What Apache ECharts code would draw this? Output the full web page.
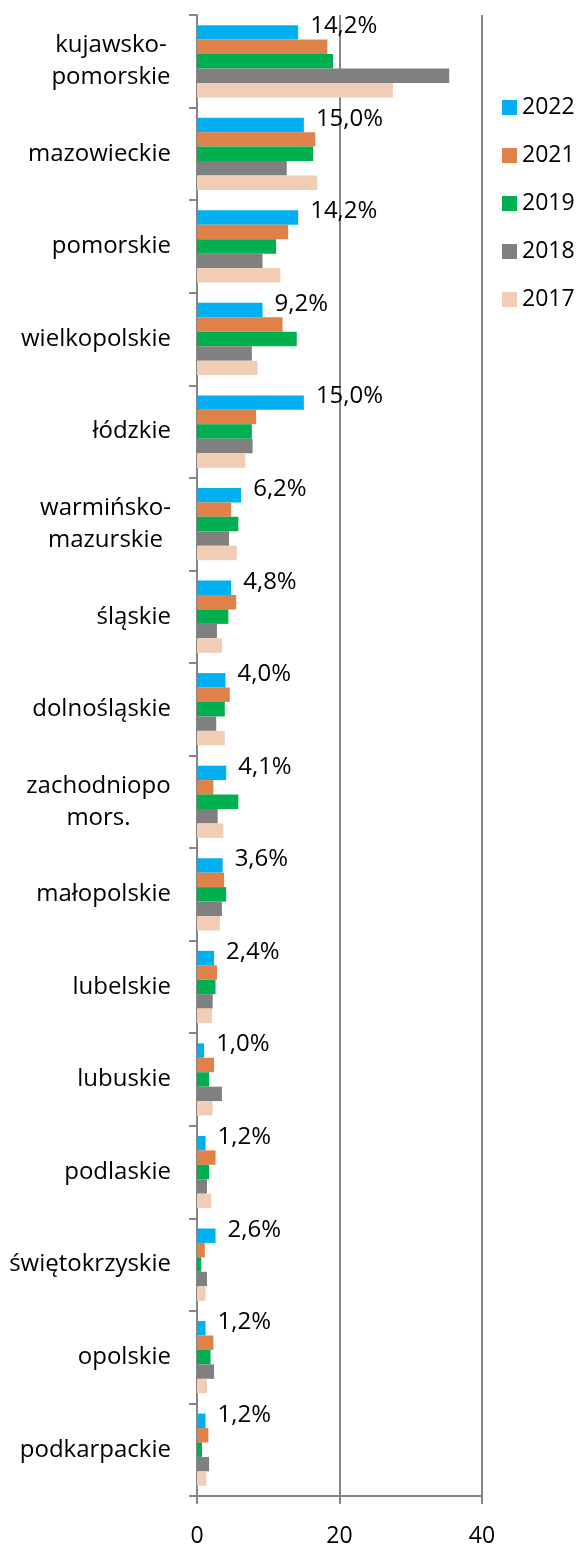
<!DOCTYPE html>
<html>
<head>
<meta charset="utf-8">
<title>chart</title>
<script src="https://cdn.jsdelivr.net/npm/echarts@6/dist/echarts.min.js"></script>
<style>
  html, body { margin: 0; padding: 0; background: #fff; }
  #chart { width: 576px; height: 1548px; }
</style>
</head>
<body>
<div id="chart"></div>
<script>
const categories = ['kujawsko-\npomorskie', 'mazowieckie', 'pomorskie', 'wielkopolskie', 'łódzkie',
  'warmińsko-\nmazurskie', 'śląskie', 'dolnośląskie', 'zachodniopo\nmors.', 'małopolskie',
  'lubelskie', 'lubuskie', 'podlaskie', 'świętokrzyskie', 'opolskie', 'podkarpackie']
const seriesNames = ['2022', '2021', '2019', '2018', '2017']
const v2022 = [14.2, 15.0, 14.2, 9.2, 15.0, 6.2, 4.8, 4.0, 4.1, 3.6, 2.4, 1.0, 1.2, 2.6, 1.2, 1.2]
const v2021 = [18.3, 16.6, 12.8, 12.0, 8.3, 4.8, 5.5, 4.6, 2.3, 3.8, 2.8, 2.4, 2.6, 1.1, 2.3, 1.6]
const v2019 = [19.1, 16.3, 11.1, 14.0, 7.7, 5.8, 4.4, 3.9, 5.8, 4.1, 2.6, 1.7, 1.7, 0.6, 1.9, 0.7]
const v2018 = [35.4, 12.6, 9.2, 7.7, 7.8, 4.5, 2.8, 2.7, 2.9, 3.5, 2.2, 3.5, 1.4, 1.4, 2.4, 1.7]
const v2017 = [27.5, 16.9, 11.7, 8.5, 6.8, 5.6, 3.5, 3.9, 3.7, 3.2, 2.1, 2.2, 2.0, 1.2, 1.4, 1.3]
const colorList = ['#00B0F0', '#E0814A', '#00B050', '#808080', '#F2CDB5']

const FONT = '"Open Sans", sans-serif'
const CAT_FS = 24

// multi-line labels are centred line by line, block stays right-aligned
const ctx = document.createElement('canvas').getContext('2d')
ctx.font = CAT_FS + 'px "Open Sans"'
const rich = {}
const labelText = {}
categories.forEach((name, i) => {
  const lines = name.split('\n')
  if (lines.length === 1) {
    labelText[name] = name
    return
  }
  const w = Math.ceil(Math.max(...lines.map(l => ctx.measureText(l).width)))
  rich['c' + i] = { width: w, align: 'center', fontSize: CAT_FS, fontFamily: FONT, color: '#000', lineHeight: 32 }
  labelText[name] = lines.map(l => '{c' + i + '|' + l + '}').join('\n')
})

const allValues = [v2022, v2021, v2019, v2018, v2017]
const series = allValues.map((vals, idx) => ({
  name: seriesNames[idx],
  type: 'bar',
  data: vals,
  barCategoryGap: '22%',
  barGap: '0%',
  itemStyle: { color: colorList[idx] },
  label: idx === 0 ? {
    show: true,
    position: 'right',
    distance: 12,
    offset: [0, -6],
    fontFamily: FONT,
    fontSize: 24,
    color: '#000',
    formatter: p => p.value.toFixed(1).replace('.', ',') + '%'
  } : { show: false }
}))

const chart = echarts.init(document.getElementById('chart'))
chart.setOption({
  animation: false,
  textStyle: { fontFamily: FONT },
  grid: { left: 197, right: 94, top: 15, bottom: 46 },
  legend: {
    orient: 'vertical',
    left: 497,
    top: 91,
    itemWidth: 15,
    itemHeight: 15,
    itemGap: 25,
    icon: 'rect',
    textStyle: { fontFamily: FONT, fontSize: 23, color: '#000' },
    data: seriesNames
  },
  xAxis: {
    type: 'value',
    min: 0,
    max: 40,
    interval: 20,
    axisLine: { show: true, lineStyle: { color: '#868686', width: 2 } },
    axisTick: { show: true, length: 8, lineStyle: { color: '#868686', width: 2 } },
    splitLine: { show: true, lineStyle: { color: '#868686', width: 2 } },
    axisLabel: { margin: 29, fontFamily: FONT, fontSize: 23, color: '#000' }
  },
  yAxis: {
    type: 'category',
    inverse: true,
    data: categories,
    axisLine: { show: true, lineStyle: { color: '#868686', width: 2 } },
    axisTick: { show: true, length: 8, lineStyle: { color: '#868686', width: 2 } },
    axisLabel: {
      margin: 26,
      fontFamily: FONT,
      fontSize: CAT_FS,
      color: '#000',
      lineHeight: 32,
      formatter: v => labelText[v],
      rich: rich
    }
  },
  series: series
})
</script>
</body>
</html>
